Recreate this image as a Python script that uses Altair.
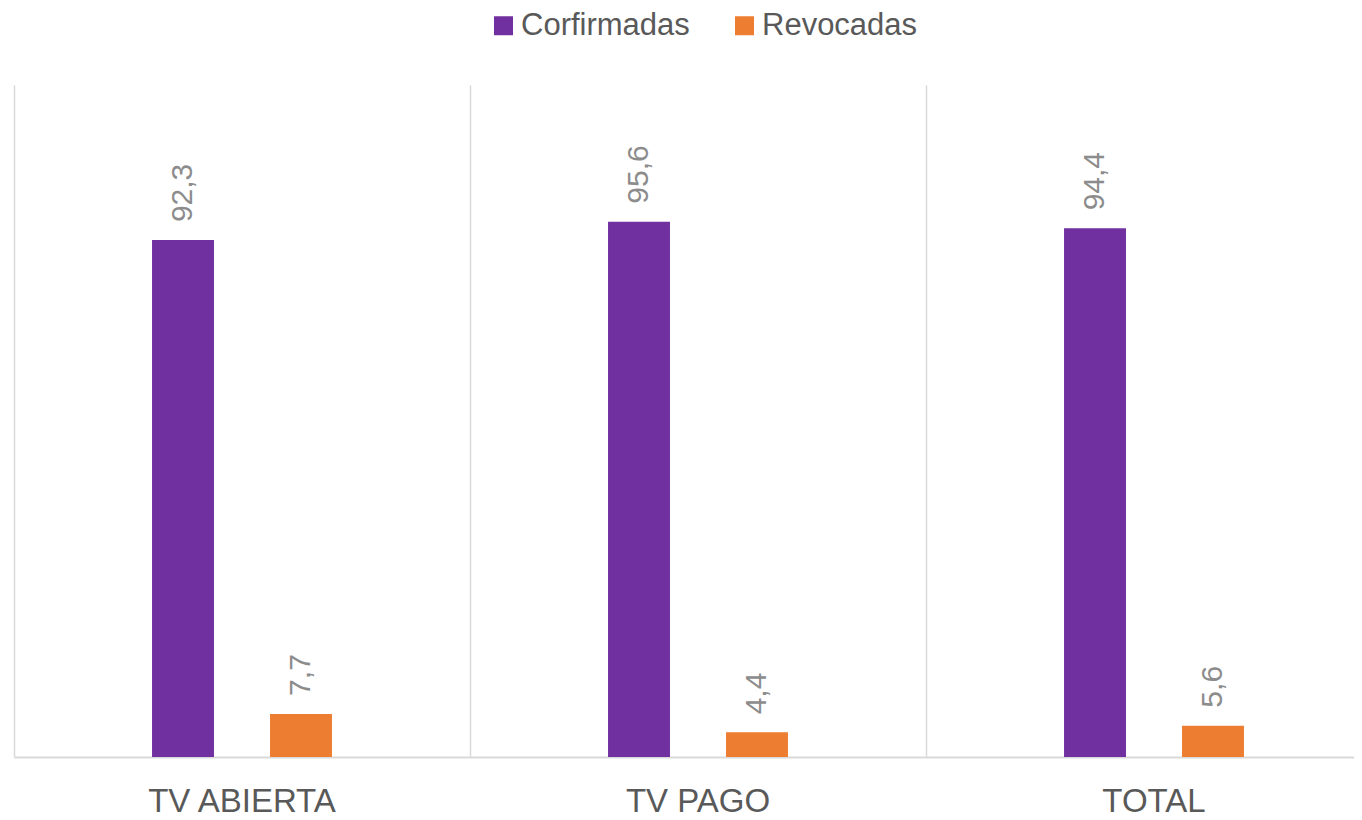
import altair as alt
import pandas as pd

categories = ["TV ABIERTA", "TV PAGO", "TOTAL"]
series = ["Corfirmadas", "Revocadas"]
confirmadas = [92.3, 95.6, 94.4]
revocadas = [7.7, 4.4, 5.6]
colors = ["#7030A0", "#ED7D31"]

rows = []
for i, c in enumerate(categories):
    for s, vals in zip(series, [confirmadas, revocadas]):
        v = vals[i]
        rows.append({"cat": c, "serie": s, "valor": v, "label": f"{v:.1f}".replace(".", ",")})
df = pd.DataFrame(rows)

FONT = "Liberation Sans"
offset_domain = ["_izq"] + series + ["_der"]

x = alt.X("cat:N", sort=categories, title=None,
          scale=alt.Scale(range=[0, 1368], paddingInner=0, paddingOuter=0),
          axis=alt.Axis(labelAngle=0, labelFontSize=33, labelColor="#595959", labelFont=FONT,
                        labelPadding=28, labelLimit=400, ticks=False, grid=True, bandPosition=0,
                        gridColor="#d9d9d9", gridWidth=1.5, domainColor="#d9d9d9", domainWidth=2))
xo = alt.XOffset("serie:N",
                 scale=alt.Scale(domain=offset_domain, paddingInner=0.475, paddingOuter=0.17))
y = alt.Y("valor:Q", scale=alt.Scale(domain=[0, 120]), axis=None)

bars = alt.Chart(df).mark_bar().encode(
    x=x, xOffset=xo, y=y,
    color=alt.Color("serie:N", sort=series, scale=alt.Scale(domain=series, range=colors),
                    legend=alt.Legend(title=None, orient="none", direction="horizontal",
                                      legendX=474, legendY=-75,
                                      symbolType="square", symbolSize=361, symbolStrokeWidth=0,
                                      labelFontSize=31, labelColor="#595959", labelFont=FONT,
                                      labelOffset=2, columnPadding=39, labelLimit=400)),
)

labels = alt.Chart(df).mark_text(angle=270, align="left", baseline="middle", dx=18,
                                 fontSize=30, color="#8c8c8c", font=FONT).encode(
    x=x, xOffset=xo, y=y, text="label:N")

chart = alt.layer(bars, labels).properties(
    width=1340, height=672,
    autosize=alt.AutoSizeParams(type="none"),
    padding={"left": 6, "top": 77, "right": 0, "bottom": 62},
).configure_view(stroke=None)

chart.save("out.html", embed_options={"renderer": "svg", "actions": False})
